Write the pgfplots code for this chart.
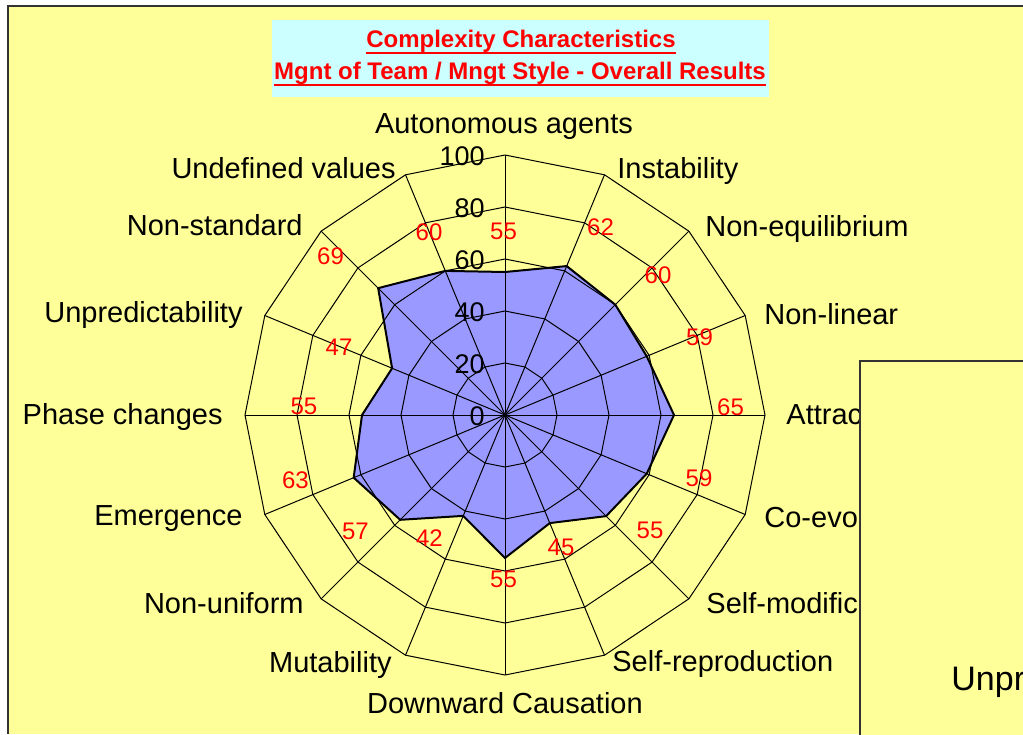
\documentclass[border=0pt]{standalone}
\usepackage{fontspec}
\setmainfont{Liberation Sans}
\usepackage{pgfplots}
\pgfplotsset{compat=1.18}
\usepgfplotslibrary{polar}

\definecolor{bgyellow}{HTML}{FFFF99}
\definecolor{titlecyan}{HTML}{CCFFFF}
\definecolor{radarfill}{HTML}{9999FF}
\definecolor{framegray}{HTML}{333333}
\newcommand\catfont{\fontsize{14.5}{17}\selectfont}
\newcommand\valfont{\fontsize{12}{14}\selectfont}

\begin{document}
\begin{tikzpicture}
\path[use as bounding box] (0,0) rectangle (511.5pt,-367pt);
\clip (0,0) rectangle (511.5pt,-367pt);

% background, frame and title (pixel units, y down)
\begin{scope}[x=0.5pt,y=-0.5pt]
  \fill[white] (0,0) rectangle (1023,734);
  \fill[bgyellow] (8,6) rectangle (1023,734);
  \draw[framegray, line width=1pt] (8,734) -- (8,6) -- (1023,6);
  \fill[titlecyan] (272,20) rectangle (769,97);
  \node[anchor=base, inner sep=0, red, font=\bfseries\fontsize{12}{14}\selectfont] (t1) at (521,47) {Complexity Characteristics};
  \node[anchor=base, inner sep=0, red, font=\bfseries\fontsize{12}{14}\selectfont] (t2) at (520,79) {Mgnt of Team / Mngt Style - Overall Results};
  \draw[red, line width=1pt] ([yshift=-3pt]t1.base west) -- ([yshift=-3pt]t1.base east);
  \draw[red, line width=1pt] ([yshift=-3pt]t2.base west) -- ([yshift=-3pt]t2.base east);
\end{scope}

\begin{axis}[
  at={(252.5pt,-207.5pt)}, anchor=center,
  x=1.3pt, y=1.3pt,
  xmin=-100, xmax=100, ymin=-100, ymax=100,
  hide axis, clip=false,
  gridline/.style={black, line width=0.5pt, forget plot},
]
% angle (deg), value: clockwise from Autonomous agents
\addplot[draw=black, line width=1pt, fill=radarfill, line join=miter, data cs=polar] coordinates {
  (90,55) (67.5,62) (45,60) (22.5,59) (0,65) (-22.5,59) (-45,55) (-67.5,45)
  (-90,55) (-112.5,42) (-135,57) (-157.5,63) (-180,55) (-202.5,47) (-225,69) (-247.5,60)
  (90,55)
};
\pgfplotsinvokeforeach{20,40,60,80,100}{
  \addplot[gridline, data cs=polar] coordinates {
    (90,#1) (67.5,#1) (45,#1) (22.5,#1) (0,#1) (-22.5,#1) (-45,#1) (-67.5,#1)
    (-90,#1) (-112.5,#1) (-135,#1) (-157.5,#1) (-180,#1) (-202.5,#1) (-225,#1) (-247.5,#1)
    (90,#1)
  };
}
\pgfplotsinvokeforeach{0,22.5,...,337.5}{
  \addplot[gridline, data cs=polar] coordinates {(#1,0) (#1,100)};
}
\end{axis}

% labels and the legend box (pixel units, y down)
\begin{scope}[x=0.5pt,y=-0.5pt]
  % radial scale
  \foreach \v/\y in {0/416,20/364,40/312,60/260,80/208,100/156}
    \node[anchor=east, inner sep=0, font=\fontsize{13.5}{16}\selectfont] at (485,\y) {\v};
  % categories
  \begin{scope}[every node/.style={inner sep=0, font=\catfont}]
    \node[anchor=base] at (504,133) {Autonomous agents};
    \node[anchor=base west] at (617,178) {Instability};
    \node[anchor=base west] at (705,236) {Non-equilibrium};
    \node[anchor=base west] at (764,324) {Non-linear};
    \node[anchor=base west] at (786,424) {Attractors};
    \node[anchor=base west] at (764,527) {Co-evolution};
    \node[anchor=base west] at (706,613) {Self-modification};
    \node[anchor=base west] at (612,671) {Self-reproduction};
    \node[anchor=base] at (505,713) {Downward Causation};
    \node[anchor=base east] at (392,672) {Mutability};
    \node[anchor=base east] at (304,613) {Non-uniform};
    \node[anchor=base east] at (243,525) {Emergence};
    \node[anchor=base east] at (223,424) {Phase changes};
    \node[anchor=base east] at (243,322) {Unpredictability};
    \node[anchor=base east] at (303,235) {Non-standard};
    \node[anchor=base east] at (396,178) {Undefined values};
  \end{scope}
  % value labels
  \begin{scope}[every node/.style={inner sep=0, red, font=\valfont}]
    \node at (503.5,231) {55};
    \node at (600.5,227) {62};
    \node at (658,275) {60};
    \node at (699.5,337) {59};
    \node at (730.5,407) {65};
    \node at (699,478) {59};
    \node at (650,530) {55};
    \node at (561,547) {45};
    \node at (503.5,579) {55};
    \node at (429.5,538) {42};
    \node at (355.5,531) {57};
    \node at (295.5,480) {63};
    \node at (304,406) {55};
    \node at (339,347) {47};
    \node at (330.5,256.5) {69};
    \node at (429,232) {60};
  \end{scope}
  % legend box, cut by the picture edge
  \draw[fill=bgyellow, draw=framegray, line width=0.75pt] (860,361) rectangle (1040,750);
  \node[anchor=base west, inner sep=0, font=\fontsize{17}{20}\selectfont] at (951,690) {Unpredictability};
\end{scope}
\end{tikzpicture}
\end{document}
